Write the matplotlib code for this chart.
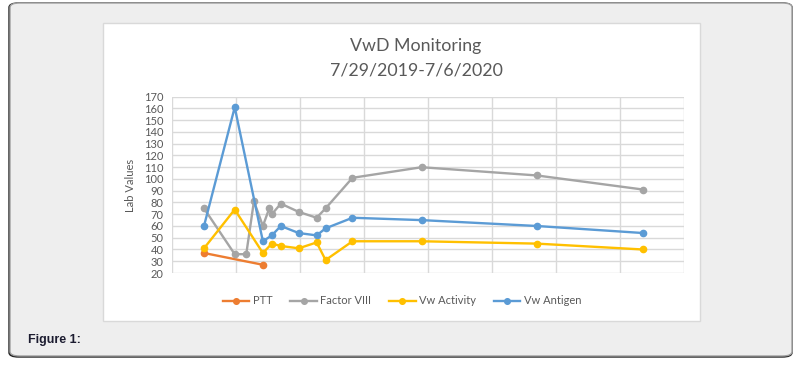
import matplotlib.pyplot as plt
from matplotlib.patches import FancyBboxPatch, Rectangle
import numpy as np

# days counted from 7/29/2019
ptt_days = [0, 46]
ptt = [37, 27]

f8_days = [0, 24, 33, 39, 46, 51, 53, 60, 74, 88, 95, 116, 170, 260, 343]
factor_viii = [75, 36, 36, 81, 60, 75, 70, 79, 72, 67, 75, 101, 110, 103, 91]

vw_days = [0, 24, 46, 53, 60, 74, 88, 95, 116, 170, 260, 343]
vw_activity = [41, 74, 37, 45, 43, 41, 46, 31, 47, 47, 45, 40]
vw_antigen = [60, 161, 47, 52, 60, 54, 52, 58, 67, 65, 60, 54]

W, H = 801, 367
fig = plt.figure(figsize=(W / 100, H / 100), dpi=100)
fig.patch.set_facecolor('white')


def fx(px):
    return px / W


def fy(py):
    return 1 - py / H


# outer panel with rounded corners (dark shadow left/bottom)
shadow = FancyBboxPatch((fx(9), fy(357)), fx(783), 354 / H,
                        boxstyle="round,pad=0,rounding_size=0.012",
                        transform=fig.transFigure, facecolor='#222222',
                        edgecolor='#222222', linewidth=1.0, zorder=0)
fig.patches.append(shadow)
panel = FancyBboxPatch((fx(10), fy(356)), fx(782), 353 / H,
                       boxstyle="round,pad=0,rounding_size=0.012",
                       transform=fig.transFigure, facecolor='#eeeeee',
                       edgecolor='#a0a0a0', linewidth=1.0, zorder=1)
fig.patches.append(panel)

# white chart area
chart = Rectangle((fx(103), fy(321)), fx(597), 298 / H,
                  transform=fig.transFigure, facecolor='white',
                  edgecolor='#d9d9d9', linewidth=1.0, zorder=2)
fig.patches.append(chart)

ax = fig.add_axes([fx(172), fy(273), fx(512), 176.3 / H])
ax.set_zorder(3)
ax.patch.set_alpha(0)

ax.plot(ptt_days, ptt, color='#ED7D31', lw=1.7, marker='o', ms=4.5, label='PTT', zorder=3)
ax.plot(f8_days, factor_viii, color='#A5A5A5', lw=1.7, marker='o', ms=4.5, label='Factor VIII', zorder=4)
ax.plot(vw_days, vw_activity, color='#FFC000', lw=1.7, marker='o', ms=4.5, label='Vw Activity', zorder=5)
ax.plot(vw_days, vw_antigen, color='#5B9BD5', lw=1.7, marker='o', ms=4.5, label='Vw Antigen', zorder=6)

ax.set_xlim(-25, 374)
ax.set_ylim(20, 170)
ax.set_xticks(np.arange(-25, 376, 50))
ax.set_yticks(np.arange(20, 171, 10))
ax.grid(True, color='#d9d9d9', lw=1)
ax.set_axisbelow(True)
for s in ax.spines.values():
    s.set_visible(False)
ax.tick_params(axis='x', length=0, labelbottom=False)
ax.tick_params(axis='y', length=0, labelsize=8, labelcolor='#595959', pad=6)
for lab in ax.get_yticklabels():
    lab.set_fontfamily('Lato')

fig.text(fx(131), fy(185), 'Lab Values', rotation=90, ha='center', va='center',
         fontsize=8, color='#595959', family='Lato', zorder=4)

fig.text(fx(416), fy(46), 'VwD Monitoring', ha='center', va='center',
         fontsize=12.8, color='#595959', family='Lato', zorder=4)
fig.text(fx(416), fy(70), '7/29/2019-7/6/2020', ha='center', va='center',
         fontsize=12.8, color='#595959', family='Lato', zorder=4)

leg = fig.legend(loc='center', bbox_to_anchor=(fx(402), fy(301)), ncol=4,
                 frameon=False, handlelength=2.4, handletextpad=0.3,
                 columnspacing=1.6, markerscale=0.9, prop={'family': 'Lato', 'size': 8})
for t in leg.get_texts():
    t.set_color('#595959')
leg.set_zorder(5)

fig.text(fx(28), fy(340), 'Figure 1:', ha='left', va='center', fontsize=9,
         fontweight='bold', color='#1c1c30', family='Liberation Sans', zorder=4)

fig.savefig('out.png', dpi=100)
